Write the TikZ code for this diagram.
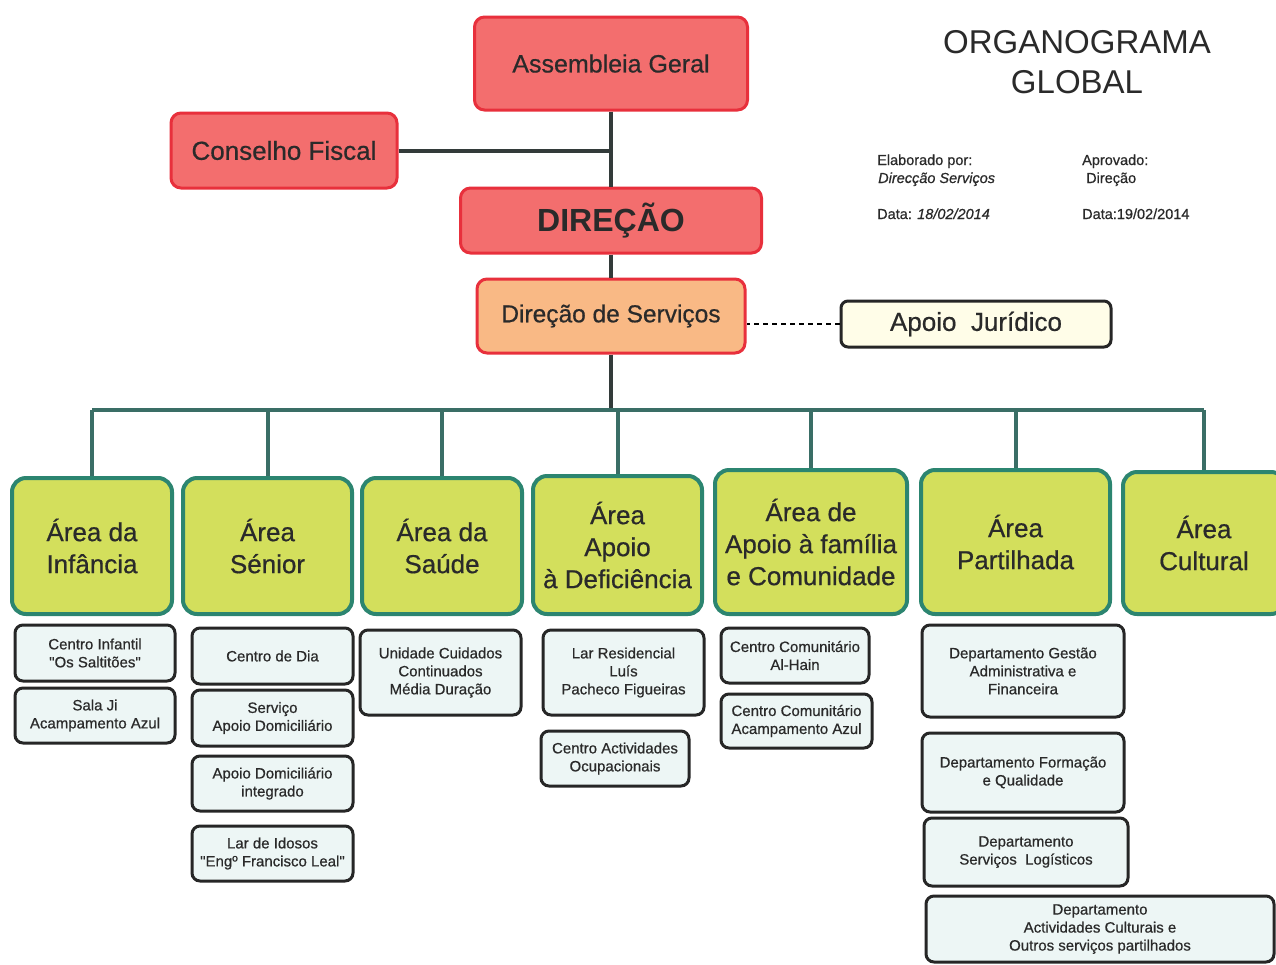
\documentclass[tikz,border=0pt]{standalone}
\usepackage{fontspec}
\setmainfont{Liberation Sans}
\newfontfamily\heavyfont{Liberation Sans}[FakeBold=0.6]
\definecolor{redfill}{HTML}{F36E6E}
\definecolor{redline}{HTML}{E8303C}
\definecolor{orfill}{HTML}{F9B985}
\definecolor{grfill}{HTML}{D3DF5C}
\definecolor{grline}{HTML}{2C8570}
\definecolor{subfill}{HTML}{EDF6F5}
\definecolor{jurfill}{HTML}{FFFDE8}
\definecolor{txt}{HTML}{2A2A2A}
\definecolor{trunk}{HTML}{333B3A}
\definecolor{busc}{HTML}{3A6E66}
\tikzset{
  sz/.style 2 args={minimum width=#1pt, minimum height=#2pt},
  redbox/.style={draw=redline, line width=3pt, fill=redfill, rounded corners=10pt, text=txt, inner sep=0pt, align=center, font=\heavyfont\fontsize{25}{30}\selectfont},
  orbox/.style={redbox, fill=orfill},
  jurbox/.style={draw=black!85, line width=3pt, fill=jurfill, rounded corners=7pt, text=txt, inner sep=0pt, align=center, font=\heavyfont\fontsize{26}{30}\selectfont},
  areabox/.style={draw=grline, line width=4pt, fill=grfill, rounded corners=14pt, text=txt, inner sep=0pt, align=center, font=\heavyfont\fontsize{26}{32}\selectfont},
  subbox/.style={draw=black!85, line width=3pt, fill=subfill, rounded corners=8pt, text=txt, inner sep=0pt, align=center, font=\heavyfont\fontsize{15}{18}\selectfont},
  trunkline/.style={draw=trunk, line width=4pt},
  busline/.style={draw=busc, line width=4pt},
  dashline/.style={draw=black, line width=1.6pt, dash pattern=on 5pt off 4pt},
  infotext/.style={anchor=base west, text=txt, inner sep=0pt, font=\heavyfont\fontsize{14.5}{17}\selectfont},
}
\begin{document}
\begin{tikzpicture}[x=1pt,y=-1pt]
\clip (0,0) rectangle (1276,964);
\fill[white] (0,0) rectangle (1276,964);

% title and info
\node[text=txt, align=center, font=\fontsize{33}{40}\selectfont] (title) at (1077,62) {ORGANOGRAMA\\GLOBAL};
\node[infotext] (el1) at (877,165) {Elaborado por:};
\node[infotext] (el2) at (878,183) {\itshape Direcção Serviços};
\node[infotext] (el3) at (877,219) {Data: \itshape 18/02/2014};
\node[infotext] (ap1) at (1082,165) {Aprovado:};
\node[infotext] (ap2) at (1086,183) {Direção};
\node[infotext] (ap3) at (1082,219) {Data:19/02/2014};

% top nodes
\node[redbox, sz={273}{93}] (ag) at (611,63.5) {Assembleia Geral};
\node[redbox, sz={226}{75}, font=\heavyfont\fontsize{26}{30}\selectfont] (cf) at (284,150.5) {Conselho Fiscal};
\node[redbox, sz={301}{65}, font=\bfseries\fontsize{32}{36}\selectfont] (dir) at (611,220.5) {DIREÇÃO};
\node[orbox, sz={268}{74}, font=\heavyfont\fontsize{24.5}{30}\selectfont] (ds) at (611,316) {Direção de Serviços};
\node[jurbox, sz={270}{46}] (aj) at (976,324) {Apoio\ \ Jurídico};

% areas
\node[areabox, sz={160}{136}] (a1) at (92,546) {Área da\\Infância};
\node[areabox, sz={169}{136}] (a2) at (267.5,546) {Área\\Sénior};
\node[areabox, sz={160}{136}] (a3) at (442,546) {Área da\\Saúde};
\node[areabox, sz={169}{138}] (a4) at (617.5,545) {Área\\Apoio\\à Deficiência};
\node[areabox, sz={192}{144}] (a5) at (811,542) {Área de\\Apoio à família\\e Comunidade};
\node[areabox, sz={189}{144}] (a6) at (1015.5,542) {Área\\Partilhada};
\node[areabox, sz={162}{142}] (a7) at (1204,543) {Área\\Cultural};

% connectors
\draw[trunkline] (ag.south) -- (dir.north);
\draw[trunkline] (cf.east) -- (cf.east -| ag.south);
\draw[trunkline] (dir.south) -- (ds.north);
\draw[dashline] (aj.west) -- (aj.west -| ds.east);
\coordinate (busy) at (611,410);
\draw[trunkline] (ds.south) -- (ds.south |- busy);
\draw[busline] (a1.north |- busy) -- (a7.north |- busy);
\foreach \a in {a1,a2,a3,a4,a5,a6,a7} \draw[busline] (\a.north |- busy) -- (\a.north);

% sub boxes
\node[subbox, sz={160}{56}] (s11) at (95,653) {Centro Infantil\\\symbol{34}Os Saltitões\symbol{34}};
\node[subbox, sz={160}{55}] (s12) at (95,715.5) {Sala Ji\\Acampamento Azul};
\node[subbox, sz={161}{56}] (s21) at (272.5,656) {Centro de Dia};
\node[subbox, sz={161}{56}] (s22) at (272.5,718) {Serviço\\Apoio Domiciliário};
\node[subbox, sz={161}{55}] (s23) at (272.5,783.5) {Apoio Domiciliário\\integrado};
\node[subbox, sz={161}{55}] (s24) at (272.5,853.5) {Lar de Idosos\\\symbol{34}Engº Francisco Leal\symbol{34}};
\node[subbox, sz={161}{85}] (s31) at (440.5,672.5) {Unidade Cuidados\\Continuados\\Média Duração};
\node[subbox, sz={161}{85}] (s41) at (623.5,672.5) {Lar Residencial\\Luís\\Pacheco Figueiras};
\node[subbox, sz={148}{55}] (s42) at (615,758.5) {Centro Actividades\\Ocupacionais};
\node[subbox, sz={148}{55}] (s51) at (795,655.5) {Centro Comunitário\\Al-Hain};
\node[subbox, sz={151}{54}] (s52) at (796.5,721) {Centro Comunitário\\Acampamento Azul};
\node[subbox, sz={202}{92}] (s61) at (1023,671) {Departamento Gestão\\Administrativa e\\Financeira};
\node[subbox, sz={202}{79}] (s62) at (1023,772.5) {Departamento Formação\\e Qualidade};
\node[subbox, sz={204}{68}] (s63) at (1026,852) {Departamento\\Serviços\ \ Logísticos};
\node[subbox, sz={348}{66}] (s64) at (1100,929) {Departamento\\Actividades Culturais e\\Outros serviços partilhados};
\end{tikzpicture}
\end{document}
